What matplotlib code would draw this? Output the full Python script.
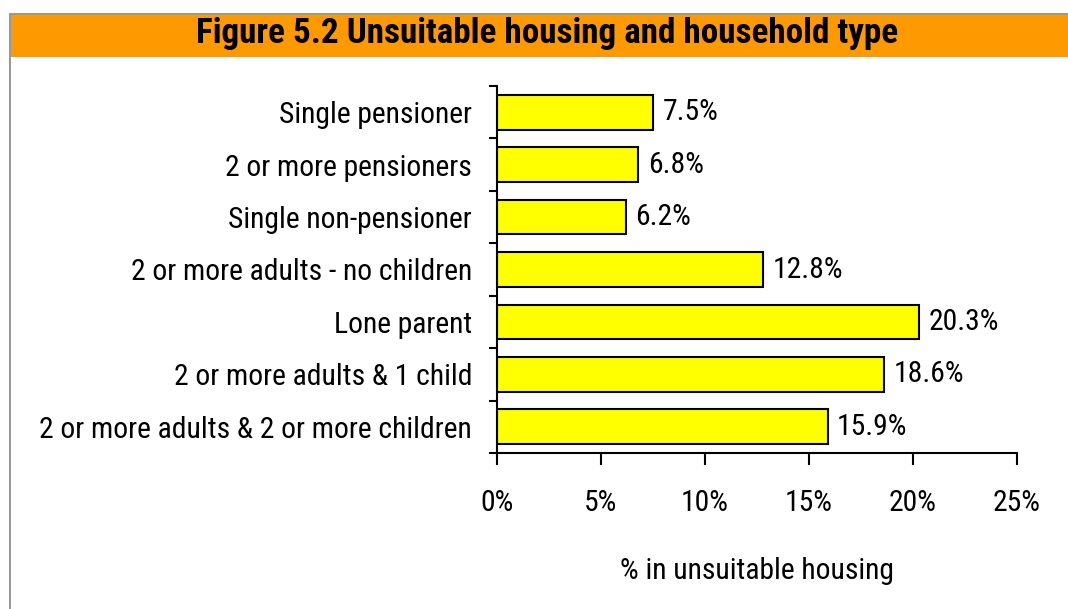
import matplotlib
matplotlib.use("Agg")
import matplotlib.pyplot as plt
from matplotlib.patches import Rectangle
from matplotlib.ticker import FixedLocator, FuncFormatter
from matplotlib import font_manager

categories = ["Single pensioner", "2 or more pensioners", "Single non-pensioner",
              "2 or more adults - no children", "Lone parent",
              "2 or more adults & 1 child", "2 or more adults & 2 or more children"]
values = [7.5, 6.8, 6.2, 12.8, 20.3, 18.6, 15.9]
xticks = [0, 5, 10, 15, 20, 25]
title = "Figure 5.2 Unsuitable housing and household type"
xlabel = "% in unsuitable housing"

names = {f.name for f in font_manager.fontManager.ttflist}
def pick(cands, default="Liberation Sans"):
    for c in cands:
        if c in names:
            return c
    return default

body_font = pick(["Liberation Sans Narrow", "Arial Narrow", "Roboto Condensed",
                  "Archivo Narrow", "PT Sans Narrow", "Fira Sans Condensed"])
title_font = pick(["Liberation Sans Narrow", "Arial Narrow", "Roboto Condensed",
                   "Fira Sans Condensed", "Barlow Condensed"])
plt.rcParams['font.family'] = [body_font, 'DejaVu Sans']

W, H = 1068, 609
fig = plt.figure(figsize=(W/100, H/100), dpi=100)
renderer = fig.canvas.get_renderer()

def fit_size(text, target_px, family, weight="normal", base=20.0):
    t = fig.text(0, 0, text, fontsize=base, family=family, fontweight=weight)
    w = t.get_window_extent(renderer).width
    t.remove()
    return base * target_px / w

fs = min(fit_size(categories[-1], 432, body_font), 23)
tfs = min(fit_size(title, 702, title_font, "bold"), 27)

# frame lines and header
fig.patches.append(Rectangle((9/W, 0), 2/W, 1 - 13/H, transform=fig.transFigure,
                             facecolor="#999999", edgecolor="none"))
fig.patches.append(Rectangle((9/W, 1 - 15/H), 1 - 9/W, 2/H, transform=fig.transFigure,
                             facecolor="#999999", edgecolor="none"))
fig.patches.append(Rectangle((11/W, 1 - 57/H), 1 - 11/W, 42/H, transform=fig.transFigure,
                             facecolor="#FF9900", edgecolor="none"))
fig.text(547/W, 1 - 34/H, title, ha="center", va="center", fontsize=tfs,
         fontweight="bold", family=[title_font, 'DejaVu Sans'], color="black")

# axes: x 497..1017, y 86..453
ax = fig.add_axes([497/W, 1 - 453/H, 520/W, 367/H])
n = len(categories)
ypos = list(range(n))
ax.barh(ypos, values, height=0.66, color="#FFFF00", edgecolor="black", linewidth=1.5)
ax.set_xlim(0, 25)
ax.set_ylim(n - 0.5, -0.5)
for y, v in zip(ypos, values):
    ax.text(v + 0.45, y, f"{v:.1f}%", va="center", ha="left", fontsize=fs)

ax.set_yticks(ypos)
ax.set_yticklabels(categories, fontsize=fs)
ax.yaxis.set_minor_locator(FixedLocator([i - 0.5 for i in range(n + 1)]))
ax.tick_params(axis="y", which="major", length=0, pad=18)
ax.tick_params(axis="y", which="minor", length=5.8, width=1.5, direction="out")
ax.set_xticks(xticks)
ax.xaxis.set_major_formatter(FuncFormatter(lambda v, p: f"{v:.0f}%"))
ax.tick_params(axis="x", length=8.6, width=1.5, direction="out", labelsize=fs, pad=17)
ax.set_xlabel(xlabel, fontsize=fs, labelpad=29)

for s in ["top", "right"]:
    ax.spines[s].set_visible(False)
for s in ["left", "bottom"]:
    ax.spines[s].set_linewidth(1.5)

fig.savefig("out.png", dpi=100)
